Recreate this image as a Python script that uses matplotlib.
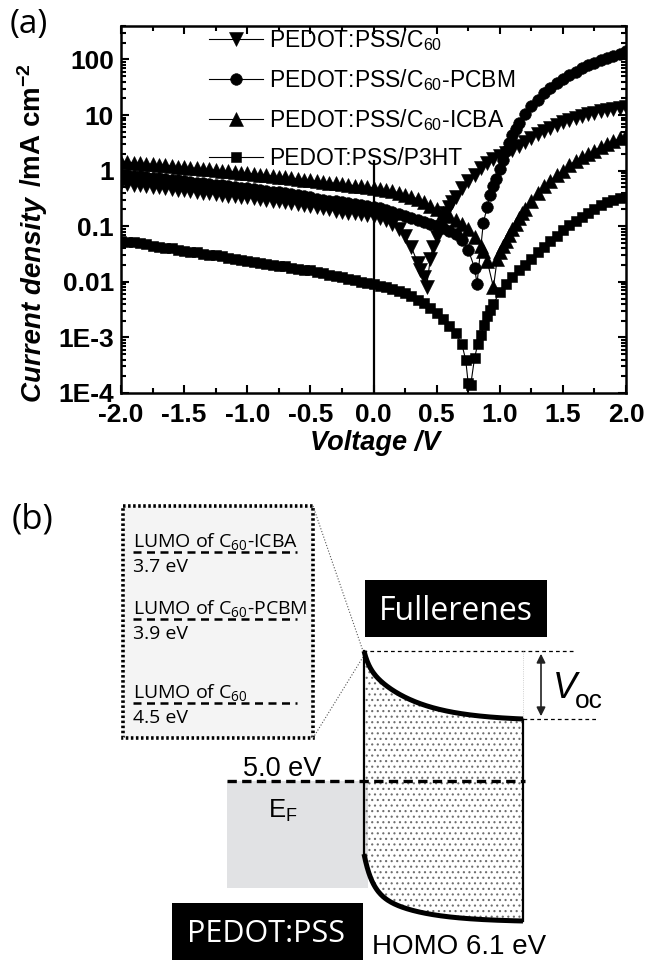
import numpy as np
import matplotlib
matplotlib.use("Agg")
import matplotlib.pyplot as plt
from matplotlib.patches import Rectangle, FancyArrowPatch
from matplotlib.ticker import MultipleLocator, LogLocator, NullFormatter

plt.rcParams['font.family'] = ['Liberation Sans', 'DejaVu Sans']
plt.rcParams['mathtext.default'] = 'regular'
plt.rcParams['hatch.color'] = '#6e6e6e'
plt.rcParams['hatch.linewidth'] = 0.8

# ---------------- data (panel a) ----------------
voltage = np.round(np.arange(-2.0, 2.0001, 0.05), 2)

j_c60 = [0.60, 0.58, 0.56, 0.55, 0.53, 0.51, 0.50, 0.48, 0.47, 0.45,
         0.44, 0.43, 0.41, 0.40, 0.39, 0.38, 0.365, 0.355, 0.345, 0.34,
         0.33, 0.32, 0.31, 0.30, 0.29, 0.28, 0.27, 0.26, 0.25, 0.24,
         0.23, 0.22, 0.21, 0.20, 0.19, 0.18, 0.175, 0.17, 0.163, 0.157,
         0.150, 0.140, 0.128, 0.11, 0.09, 0.066, 0.042, 0.022, 0.012, 0.026,
         0.063, 0.13, 0.22, 0.33, 0.48, 0.65, 0.85, 1.10, 1.35, 1.6,
         1.85, 2.1, 2.4, 2.8, 3.3, 3.9, 4.6, 5.2, 5.9, 6.6,
         7.4, 8.2, 9.0, 9.7, 10.4, 11.1, 11.8, 12.4, 13.0, 13.6, 14.2]
c60_dip_v = [0.37, 0.42, 0.47, 0.525, 0.575, 0.625]
c60_dip_j = [0.016, 0.0080, 0.042, 0.095, 0.17, 0.27]

j_pcbm = [0.85, 0.83, 0.81, 0.79, 0.77, 0.75, 0.73, 0.71, 0.69, 0.67,
          0.65, 0.63, 0.61, 0.595, 0.58, 0.56, 0.545, 0.53, 0.51, 0.495,
          0.48, 0.465, 0.45, 0.435, 0.42, 0.405, 0.39, 0.375, 0.36, 0.345,
          0.33, 0.315, 0.30, 0.29, 0.28, 0.27, 0.26, 0.25, 0.24, 0.23,
          0.22, 0.21, 0.195, 0.18, 0.165, 0.15, 0.14, 0.13, 0.12, 0.11,
          0.10, 0.092, 0.083, 0.072, 0.057, 0.038, 0.018, np.nan, 0.22, 0.52,
          1.05, 2.3, 4.4, 7.2, 10.5, 14.5, 19, 24.5, 31, 38,
          45, 52, 60, 69, 78, 88, 97, 106, 115, 124, 142]
pcbm_dip_v = [0.82, 0.87, 0.92, 0.97, 1.025, 1.075, 1.125]
pcbm_dip_j = [0.0093, 0.115, 0.36, 0.72, 1.55, 3.2, 5.7]

j_icba = [1.45, 1.42, 1.39, 1.36, 1.33, 1.30, 1.27, 1.24, 1.21, 1.18,
          1.15, 1.12, 1.10, 1.07, 1.05, 1.02, 1.00, 0.97, 0.95, 0.92,
          0.90, 0.87, 0.85, 0.83, 0.80, 0.78, 0.76, 0.73, 0.71, 0.69,
          0.67, 0.65, 0.63, 0.61, 0.59, 0.57, 0.55, 0.54, 0.52, 0.50,
          0.49, 0.47, 0.45, 0.43, 0.40, 0.37, 0.34, 0.31, 0.27, 0.23,
          0.20, 0.17, 0.15, 0.13, 0.11, 0.09, 0.065, 0.045, 0.024, 0.008,
          0.035, 0.055, 0.09, 0.14, 0.20, 0.28, 0.40, 0.52, 0.66, 0.82,
          1.0, 1.25, 1.5, 1.75, 2.0, 2.3, 2.7, 3.0, 3.4, 3.8, 4.3]
icba_dip_v = [0.87, 0.98, 1.025, 1.075, 1.125, 1.175]
icba_dip_j = [0.036, 0.026, 0.045, 0.07, 0.11, 0.17]

j_p3ht = [0.055, 0.053, 0.051, 0.049, 0.047, 0.045, 0.043, 0.041, 0.040, 0.038,
          0.036, 0.035, 0.034, 0.032, 0.031, 0.030, 0.029, 0.027, 0.026, 0.025,
          0.024, 0.023, 0.022, 0.021, 0.020, 0.0195, 0.019, 0.018, 0.017, 0.0165,
          0.016, 0.015, 0.0143, 0.0135, 0.0127, 0.012, 0.0113, 0.0106, 0.0100, 0.0095,
          0.0090, 0.0085, 0.0080, 0.0075, 0.0068, 0.0062, 0.0055, 0.0048, 0.0041, 0.0034,
          0.0027, 0.0021, 0.0016, 0.0012, 0.00075, 0.00015, 0.00042, 0.0011, 0.0024, 0.0040,
          0.0066, 0.0093, 0.012, 0.016, 0.020, 0.026, 0.034, 0.043, 0.054, 0.068,
          0.085, 0.105, 0.126, 0.148, 0.174, 0.204, 0.24, 0.27, 0.295, 0.316, 0.34]
p3ht_dip_v = [0.73, 0.77, 0.825, 0.875, 0.925]
p3ht_dip_j = [0.00040, 0.00014, 0.00075, 0.0017, 0.0031]

series_labels = ['PEDOT:PSS/C$_{60}$', 'PEDOT:PSS/C$_{60}$-PCBM',
                 'PEDOT:PSS/C$_{60}$-ICBA', 'PEDOT:PSS/P3HT']
series_markers = ['v', 'o', '^', 's']
series_ms = [9.5, 8.4, 9.5, 7.8]

x_ticks = [-2.0, -1.5, -1.0, -0.5, 0.0, 0.5, 1.0, 1.5, 2.0]
x_tick_labels = ['-2.0', '-1.5', '-1.0', '-0.5', '0.0', '0.5', '1.0', '1.5', '2.0']
y_ticks = [1e-4, 1e-3, 1e-2, 1e-1, 1, 10, 100]
y_tick_labels = ['1E-4', '1E-3', '0.01', '0.1', '1', '10', '100']
zero_line_top = 1.5

# ---------------- data (panel b) ----------------
lumo_names = ['LUMO of C$_{60}$-ICBA', 'LUMO of C$_{60}$-PCBM', 'LUMO of C$_{60}$']
lumo_energy = [3.7, 3.9, 4.5]
pedot_wf = 5.0
homo_energy = 6.1


def merge(v, j, dv, dj):
    vv = np.concatenate([np.asarray(v, float), np.asarray(dv, float)])
    jj = np.concatenate([np.asarray(j, float), np.asarray(dj, float)])
    o = np.argsort(vv)
    vv, jj = vv[o], jj[o]
    ok = ~np.isnan(jj)
    return vv[ok], jj[ok]


W, H = 649, 960
fig = plt.figure(figsize=(W / 100, H / 100), dpi=100)

def fx(px):
    return px / W

def fy(py):
    return 1 - py / H

# ---------------- panel (a) ----------------
L, R, T, B = 121, 626, 26, 393
ax = fig.add_axes([fx(L), fy(B), (R - L) / W, (B - T) / H])

all_series = [(j_c60, c60_dip_v, c60_dip_j),
              (j_pcbm, pcbm_dip_v, pcbm_dip_j),
              (j_icba, icba_dip_v, icba_dip_j),
              (j_p3ht, p3ht_dip_v, p3ht_dip_j)]
handles = []
for (jv, dv, dj), mk, ms, lab in zip(all_series, series_markers, series_ms, series_labels):
    vv, jj = merge(voltage, jv, dv, dj)
    h, = ax.plot(vv, jj, color='k', lw=0.8, marker=mk, ms=ms,
                 markeredgewidth=0.4, markerfacecolor='k', markeredgecolor='k',
                 label=lab)
    handles.append(h)

ax.plot([0, 0], [1e-4, zero_line_top], color='k', lw=1.6, zorder=1)

ax.set_yscale('log')
ax.set_xlim(-2, 2)
ax.set_ylim(1e-4, 400)
ax.set_xticks(x_ticks, labels=x_tick_labels)
ax.set_yticks(y_ticks, labels=y_tick_labels)
ax.xaxis.set_minor_locator(MultipleLocator(0.25))
ax.yaxis.set_minor_locator(LogLocator(base=10, subs=np.arange(2, 10)))
ax.yaxis.set_minor_formatter(NullFormatter())
ax.tick_params(which='both', direction='in', top=True, right=True, width=1.5)
ax.tick_params(which='major', length=6)
ax.tick_params(which='minor', length=3.5)
ax.tick_params(axis='x', pad=7)
ax.tick_params(axis='y', pad=5)
for lbl in ax.get_xticklabels() + ax.get_yticklabels():
    lbl.set_fontsize(19)
    lbl.set_fontweight('bold')
for sp in ax.spines.values():
    sp.set_linewidth(1.8)

leg = ax.legend(handles=handles, loc='upper left',
                bbox_to_anchor=((208 - L) / (R - L), 1.0),
                frameon=False, borderaxespad=0, borderpad=0.05,
                handlelength=2.36, handletextpad=0.26, labelspacing=0.62,
                numpoints=1, prop={'family': 'Liberation Sans', 'size': 16.5})

fig.text(fx(375), fy(443), 'Voltage /V', ha='center', va='center',
         fontsize=19.5, fontweight='bold', fontstyle='italic')

# y label in two parts (italic + upright)
fig.canvas.draw()
renderer = fig.canvas.get_renderer()
t1 = fig.text(fx(41), fy(402), 'Current density', rotation=90,
              rotation_mode='anchor', ha='left', va='baseline',
              fontsize=20, fontweight='bold', fontstyle='italic')
bb = t1.get_window_extent(renderer)
t2 = fig.text(fx(41), (bb.y1 + 10) / H, '/mA cm$^{-2}$', rotation=90,
              rotation_mode='anchor', ha='left', va='baseline',
              fontsize=20, fontweight='bold')

fig.text(fx(10), fy(24), '(a)', ha='left', va='center', fontsize=24,
         family=['Open Sans', 'DejaVu Sans'])

# ---------------- panel (b) ----------------
axb = fig.add_axes([0, 0, 1, 0.5])
axb.set_xlim(0, W)
axb.set_ylim(H, H / 2)
axb.axis('off')

fig.text(fx(12), fy(520), '(b)', ha='left', va='center', fontsize=25,
         family=['Open Sans', 'DejaVu Sans'])

# inset box with LUMO levels
axb.add_patch(Rectangle((123, 506), 190, 232, facecolor='#f4f4f4',
                        edgecolor='k', lw=2.6, linestyle=(0, (0.7, 0.7))))
lumo_y = [552, 619, 703]
for name, e, yy in zip(lumo_names, lumo_energy, lumo_y):
    axb.plot([133, 297], [yy, yy], color='k', lw=1.8, linestyle=(0, (3.2, 2.2)))
    axb.text(133, yy - 5, name, ha='left', va='baseline', fontsize=14,
             family=['Open Sans', 'DejaVu Sans'])
    axb.text(133, yy + 20, f'{e:.1f} eV', ha='left', va='baseline', fontsize=14,
             family=['Open Sans', 'DejaVu Sans'])

# zoom guide lines
axb.plot([313, 363], [506, 651], color='#555555', lw=0.8, linestyle=':')
axb.plot([313, 363], [738, 657], color='#555555', lw=0.8, linestyle=':')

# PEDOT:PSS grey block
axb.add_patch(Rectangle((227, 781), 141, 107, facecolor='#e1e2e4', edgecolor='none'))

# band (bent) region
xb = np.linspace(364, 523, 200)
dx = xb - xb[0]
fu = 0.2 * (1 - np.exp(-dx / 5)) + 0.8 * (1 - np.exp(-dx / 48))
fu = fu / fu[-1]
fl = 0.5 * (1 - np.exp(-dx / 8)) + 0.5 * (1 - np.exp(-dx / 45))
fl = fl / fl[-1]
yu = 651 + 68 * fu
yl = 854 + 67 * fl
axb.fill_between(xb, yu, yl, facecolor='none', hatch='...', edgecolor='#6e6e6e', lw=0)
axb.plot(xb, yu, color='k', lw=3.6, solid_capstyle='butt')
axb.plot(xb, yl, color='k', lw=3.6, solid_capstyle='butt')
axb.plot([364, 364], [651, 854], color='k', lw=1.6)
axb.plot([523, 523], [719, 921], color='k', lw=1.6)

axb.plot([227, 525], [781, 781], color='k', lw=2.4, linestyle=(0, (2.8, 1.6)))
axb.text(243, 776, f'{pedot_wf:.1f} eV', ha='left', va='baseline', fontsize=19.5)
axb.text(268, 818, 'E$_F$', ha='left', va='baseline', fontsize=18.5)

# Voc marks
axb.plot([363, 575], [651, 651], color='k', lw=0.9, linestyle=(0, (3, 2.5)))
axb.plot([523, 597], [719, 719], color='k', lw=0.9, linestyle=(0, (3, 2.5)))
axb.plot([523, 523], [651, 719], color='#c0c0c0', lw=0.6, linestyle=':')
axb.add_patch(FancyArrowPatch((541, 651), (541, 719), arrowstyle='<|-|>',
                              mutation_scale=13, lw=1.2, color='#222222'))
axb.text(553, 698, 'V', ha='left', va='baseline', fontsize=26, fontstyle='italic')
axb.text(575, 708, 'oc', ha='left', va='baseline', fontsize=19)

# labels in black boxes
axb.add_patch(Rectangle((365, 580), 182, 57, facecolor='k', edgecolor='none'))
axb.text(456, 620, 'Fullerenes', ha='center', va='baseline', color='white',
         fontsize=23, family=['Open Sans', 'DejaVu Sans'])
axb.add_patch(Rectangle((172, 903), 191, 57, facecolor='k', edgecolor='none'))
axb.text(266, 942, 'PEDOT:PSS', ha='center', va='baseline', color='white',
         fontsize=22, family=['Open Sans', 'DejaVu Sans'])
axb.text(372, 954, f'HOMO {homo_energy:.1f} eV', ha='left', va='baseline', fontsize=20)

fig.savefig('out.png', dpi=100)
